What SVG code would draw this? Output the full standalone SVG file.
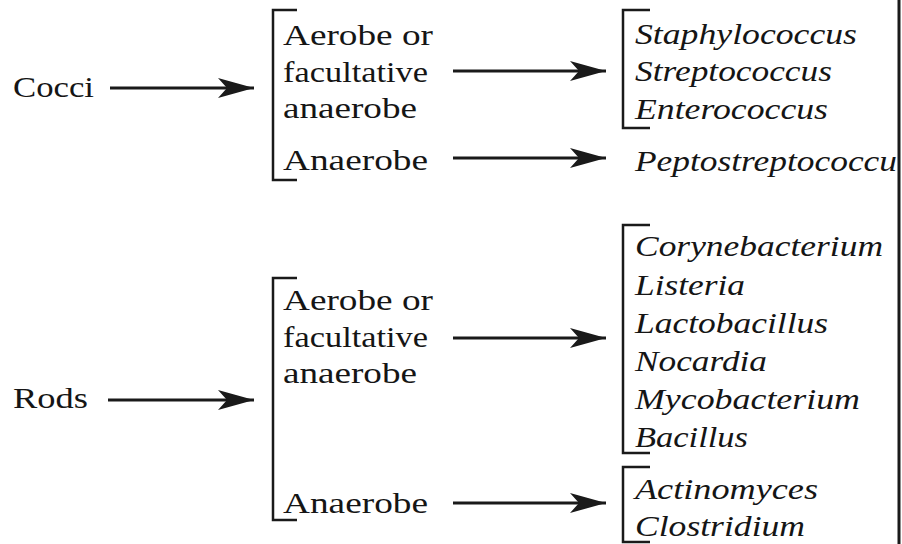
<svg xmlns="http://www.w3.org/2000/svg" width="902" height="544" viewBox="0 0 902 544">
<style>
text{font-family:'Liberation Serif','Times New Roman',Times,serif;font-size:29px;fill:#151515}
.i{font-style:italic}
.br{fill:none;stroke:#1a1a1a;stroke-width:2.5}
.ar{stroke:#1a1a1a;stroke-width:3;fill:none;marker-end:url(#ah)}
</style>
<defs>
<marker id="ah" viewBox="0 0 36 20" refX="36" refY="10" markerWidth="36" markerHeight="20" markerUnits="userSpaceOnUse" orient="auto">
<path d="M0,0 L36,10 L0,20 L9,10 Z" fill="#1a1a1a"/>
</marker>
</defs>
<rect width="902" height="544" fill="#ffffff"/>
<line x1="899" y1="0" x2="899" y2="544" stroke="#1a1a1a" stroke-width="3"/>
<g id="cocci"><text x="13" y="97" textLength="81" lengthAdjust="spacingAndGlyphs">Cocci</text></g>
<g id="cocci-types">
<path class="br" d="M297,10 H273 V180 H297"/>
<text x="283" y="45" textLength="150" lengthAdjust="spacingAndGlyphs">Aerobe or</text>
<text x="283" y="82" textLength="145" lengthAdjust="spacingAndGlyphs">facultative</text>
<text x="283" y="118" textLength="134" lengthAdjust="spacingAndGlyphs">anaerobe</text>
<text x="283" y="170" textLength="145" lengthAdjust="spacingAndGlyphs">Anaerobe</text>
</g>
<g id="cocci-aerobe-genera">
<path class="br" d="M650,10 H623 V128 H650"/>
<text class="i" x="635" y="44" textLength="222" lengthAdjust="spacingAndGlyphs">Staphylococcus</text>
<text class="i" x="635" y="81" textLength="197" lengthAdjust="spacingAndGlyphs">Streptococcus</text>
<text class="i" x="635" y="119" textLength="193" lengthAdjust="spacingAndGlyphs">Enterococcus</text>
</g>
<g id="cocci-anaerobe-genera">
<text class="i" x="635" y="171" textLength="262" lengthAdjust="spacingAndGlyphs">Peptostreptococcu</text>
</g>
<g id="rods"><text x="13" y="408" textLength="75" lengthAdjust="spacingAndGlyphs">Rods</text></g>
<g id="rods-types">
<path class="br" d="M297,278 H273 V520 H297"/>
<text x="283" y="310" textLength="150" lengthAdjust="spacingAndGlyphs">Aerobe or</text>
<text x="283" y="347" textLength="145" lengthAdjust="spacingAndGlyphs">facultative</text>
<text x="283" y="383" textLength="134" lengthAdjust="spacingAndGlyphs">anaerobe</text>
<text x="283" y="513" textLength="145" lengthAdjust="spacingAndGlyphs">Anaerobe</text>
</g>
<g id="rods-aerobe-genera">
<path class="br" d="M650,225 H623 V453 H650"/>
<text class="i" x="635" y="256" textLength="248" lengthAdjust="spacingAndGlyphs">Corynebacterium</text>
<text class="i" x="635" y="295" textLength="110" lengthAdjust="spacingAndGlyphs">Listeria</text>
<text class="i" x="635" y="333" textLength="193" lengthAdjust="spacingAndGlyphs">Lactobacillus</text>
<text class="i" x="635" y="371" textLength="132" lengthAdjust="spacingAndGlyphs">Nocardia</text>
<text class="i" x="635" y="409" textLength="225" lengthAdjust="spacingAndGlyphs">Mycobacterium</text>
<text class="i" x="635" y="447" textLength="113" lengthAdjust="spacingAndGlyphs">Bacillus</text>
</g>
<g id="rods-anaerobe-genera">
<path class="br" d="M650,467 H623 V542 H650"/>
<text class="i" x="635" y="499" textLength="183" lengthAdjust="spacingAndGlyphs">Actinomyces</text>
<text class="i" x="635" y="536" textLength="170" lengthAdjust="spacingAndGlyphs">Clostridium</text>
</g>
<g id="connectors">
<line class="ar" x1="110" y1="88" x2="254" y2="88"/>
<line class="ar" x1="453" y1="71" x2="606" y2="71"/>
<line class="ar" x1="453" y1="158" x2="606" y2="158"/>
<line class="ar" x1="108" y1="400" x2="254" y2="400"/>
<line class="ar" x1="453" y1="338" x2="606" y2="338"/>
<line class="ar" x1="453" y1="503" x2="606" y2="503"/>
</g>
</svg>
